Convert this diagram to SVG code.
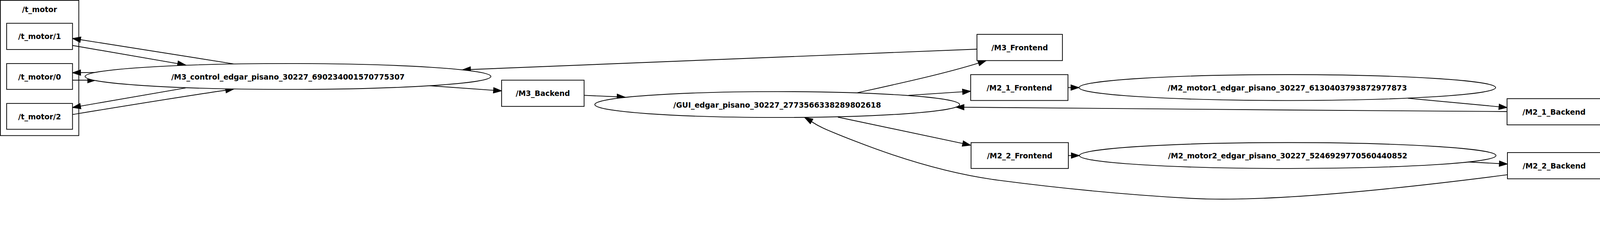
<svg xmlns="http://www.w3.org/2000/svg" width="4331" height="587" viewBox="0 0 4331 587">
<style>
  .bg { fill: #ffffff; }
  .node { fill: #ffffff; stroke: #000000; stroke-width: 2; }
  .cluster { fill: #ffffff; stroke: #000000; stroke-width: 2; }
  .lbl { font-family: "DejaVu Sans", "Liberation Sans", sans-serif; font-weight: bold; font-size: 20px; text-anchor: middle; fill: #000000; }
  .edge { fill: none; stroke: #000000; stroke-width: 2; marker-end: url(#arrow); }
</style>
<defs>
  <marker id="arrow" markerUnits="userSpaceOnUse" markerWidth="26" markerHeight="18" refX="22" refY="8" orient="auto" overflow="visible">
    <path d="M0,0.5 L22,8 L0,15.5 Z" fill="#000000" stroke="#000000" stroke-width="1.5"/>
  </marker>
</defs>
<rect class="bg" x="0" y="0" width="4331" height="587"/>
<g id="diagram" transform="scale(0.947)">
<g id="cluster_t_motor">
  <rect class="cluster" x="1" y="1" width="212" height="366"/>
  <text class="lbl" x="107" y="33">/t_motor</text>
</g>

<g id="connectors">
  <path class="edge" d="M632,173 L196,104"/>
  <path class="edge" d="M196,123 L502,176"/>
  <path class="edge" d="M259,196 L196,197"/>
  <path class="edge" d="M196,217 L259,217"/>
  <path class="edge" d="M502,238 L196,291"/>
  <path class="edge" d="M196,310 C330,288 500,260 632,241"/>
  <path class="edge" d="M2641,133 L1250,189"/>
  <path class="edge" d="M1161,232 L1356,246"/>
  <path class="edge" d="M1579,258 L1690,263"/>
  <path class="edge" d="M2318,251 C2430,226 2570,196 2666,164"/>
  <path class="edge" d="M2456,258 L2624,247"/>
  <path class="edge" d="M2887,237 L2917,237"/>
  <path class="edge" d="M3806,266 L4074,291"/>
  <path class="edge" d="M4074,302 C3600,299 3000,294 2584,290"/>
  <path class="edge" d="M2265,317 L2624,393"/>
  <path class="edge" d="M2888,421 L2918,421"/>
  <path class="edge" d="M3960,438 L4075,444"/>
  <path class="edge" d="M4075,473 C3750,515 3420,548 3220,537 S2830,505 2700,488 S2440,432 2314,383 S2215,340 2175,318"/>
</g>

<g id="t_motor_1">
  <rect class="node" x="18" y="63" width="178" height="71"/>
  <text class="lbl" x="107" y="106">/t_motor/1</text>
</g>
<g id="t_motor_0">
  <rect class="node" x="18" y="172" width="178" height="70"/>
  <text class="lbl" x="107" y="215">/t_motor/0</text>
</g>
<g id="t_motor_2">
  <rect class="node" x="18" y="280" width="178" height="70"/>
  <text class="lbl" x="107" y="323">/t_motor/2</text>
</g>
<g id="M3_control">
  <ellipse class="node" cx="778.5" cy="207" rx="548.5" ry="35"/>
  <text class="lbl" x="778.5" y="215">/M3_control_edgar_pisano_30227_690234001570775307</text>
</g>
<g id="M3_Backend">
  <rect class="node" x="1356" y="217" width="223" height="71"/>
  <text class="lbl" x="1467.5" y="260">/M3_Backend</text>
</g>
<g id="GUI">
  <ellipse class="node" cx="2101" cy="283" rx="493" ry="35"/>
  <text class="lbl" x="2101" y="291">/GUI_edgar_pisano_30227_2773566338289802618</text>
</g>
<g id="M3_Frontend">
  <rect class="node" x="2641" y="93" width="231" height="71"/>
  <text class="lbl" x="2756.5" y="136">/M3_Frontend</text>
</g>
<g id="M2_1_Frontend">
  <rect class="node" x="2624" y="202" width="263" height="70"/>
  <text class="lbl" x="2755.5" y="245">/M2_1_Frontend</text>
</g>
<g id="M2_motor1">
  <ellipse class="node" cx="3480" cy="237" rx="563" ry="35"/>
  <text class="lbl" x="3480" y="245">/M2_motor1_edgar_pisano_30227_6130403793872977873</text>
</g>
<g id="M2_1_Backend">
  <rect class="node" x="4074" y="267" width="254" height="71"/>
  <text class="lbl" x="4201" y="310">/M2_1_Backend</text>
</g>
<g id="M2_2_Frontend">
  <rect class="node" x="2625" y="386" width="263" height="70"/>
  <text class="lbl" x="2756.5" y="429">/M2_2_Frontend</text>
</g>
<g id="M2_motor2">
  <ellipse class="node" cx="3481" cy="421" rx="563" ry="35"/>
  <text class="lbl" x="3481" y="429">/M2_motor2_edgar_pisano_30227_5246929770560440852</text>
</g>
<g id="M2_2_Backend">
  <rect class="node" x="4075" y="413" width="253" height="71"/>
  <text class="lbl" x="4201.5" y="456">/M2_2_Backend</text>
</g>
</g>
</svg>
